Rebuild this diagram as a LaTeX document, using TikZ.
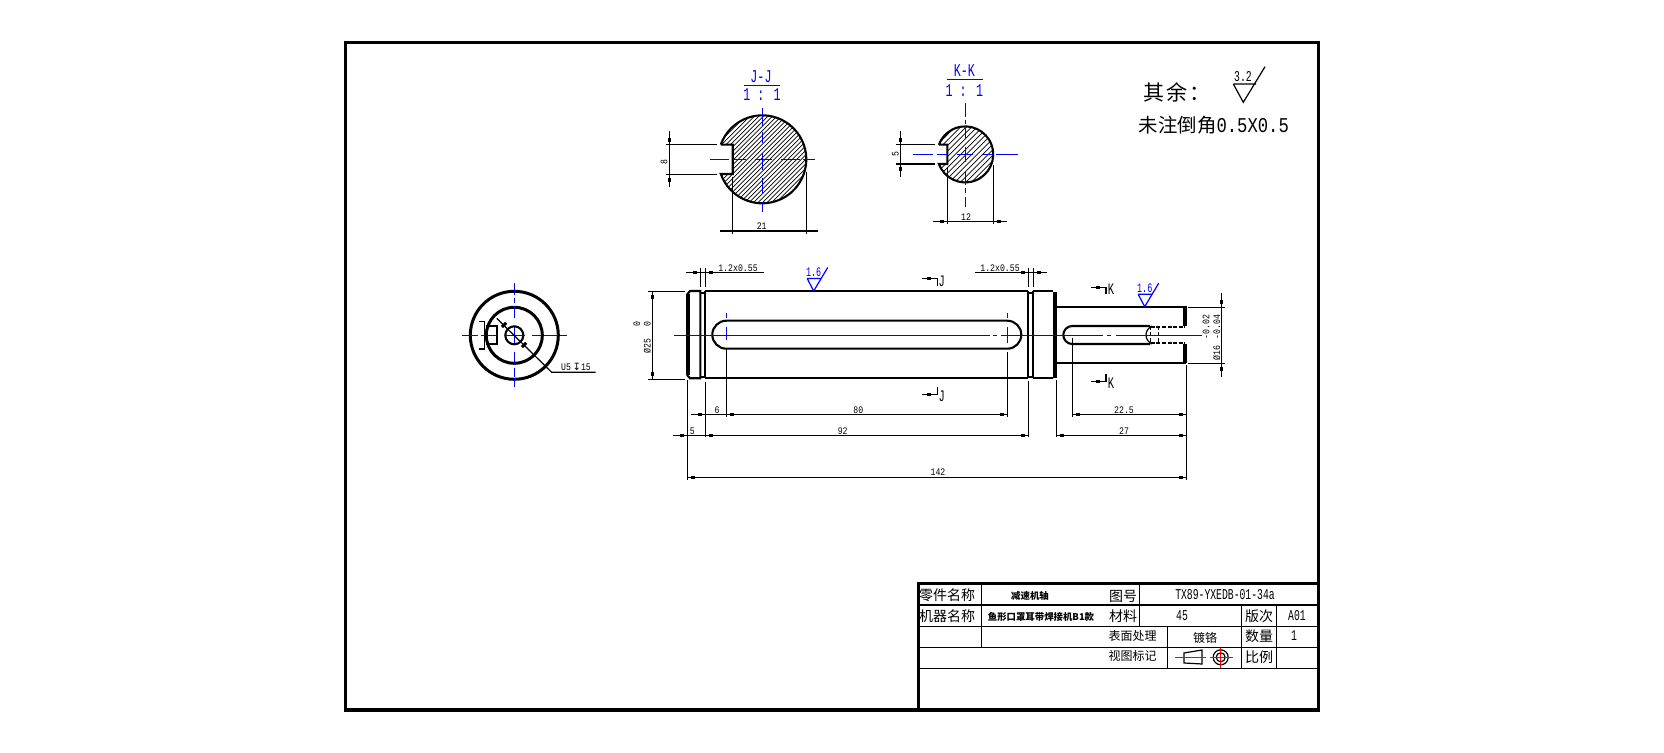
\documentclass[tikz,border=0pt]{standalone}
\usepackage{fontspec}
\newfontfamily\cjkfont{Noto Sans CJK SC}
\newfontfamily\cadnar[FakeStretch=0.65]{Liberation Mono}
\newfontfamily\caddim[FakeStretch=0.82]{Liberation Mono}
\newfontfamily\symfont{DejaVu Sans}
\definecolor{cadblue}{RGB}{0,0,255}
\definecolor{cadred}{RGB}{255,0,0}
\tikzset{
	cjkt/.style={font=\cjkfont\fontsize{#1}{#1}\selectfont,inner sep=0pt},
	nart/.style={font=\cadnar\fontsize{#1}{#1}\selectfont,inner sep=0pt},
	dimt/.style={font=\caddim\fontsize{#1}{#1}\selectfont,inner sep=0pt},
	outl/.style={line width=1.05pt},
	bar/.style={line width=1.9pt},
	fine/.style={line width=0.6pt},
	hatchl/.style={line width=0.35pt},
	cen/.style={line width=0.7pt,draw=cadblue},
	framel/.style={line width=1.6pt}
}
\newcommand{\roughsym}[4]{%
	\draw[#1,fine] (#2-6.5,#3-12.5)--(#2+7.5,#3-12.5) (#2-6.5,#3-12.5)--(#2,#3)--(#2+14,#3-23.5);
	\node[nart=#4,text=#1,anchor=south] (rough#2) at (#2,#3-13.5) {1.6};
}
\begin{document}
\begin{tikzpicture}[x=0.5pt,y=-0.5pt]
	\useasboundingbox (0,0) rectangle (1664,753);
	\draw[framel] (345.3,42.3) rectangle (1318.7,710);
	\draw[framel] (918.3,710)--(918.3,583.3)--(1318.7,583.3);
	\draw[fine] (918.3,605)--(1318.7,605) (918.3,626.3)--(1318.7,626.3) (918.3,647.3)--(1318.7,647.3) (918.3,668.3)--(1318.7,668.3);
	\draw[fine] (981.3,583.3)--(981.3,647.3) (1139.3,583.3)--(1139.3,626.3) (1167.3,626.3)--(1167.3,668.3);
	\draw[fine] (1241.3,605)--(1241.3,668.3) (1276.3,605)--(1276.3,668.3);
	\begin{scope}[every node/.style={cjkt=7}]
	\node (partname) at (947,595.7) {零件名称};
	\node (machname) at (947,616) {机器名称};
	\node (drawno) at (1123,596) {图号};
	\node (material) at (1123,616) {材料};
	\node (version) at (1259,616) {版次};
	\node (amount) at (1259,636) {数量};
	\node (ratio) at (1259,657) {比例};
	\end{scope}
	\begin{scope}[every node/.style={cjkt=6}]
	\node (surface) at (1132.7,636) {表面处理};
	\node (viewmark) at (1132.7,655.7) {视图标记};
	\node (plating) at (1205,638) {镀铬};
	\end{scope}
	\begin{scope}[every node/.style={nart=7.5}]
	\node (drawnoval) at (1225,595) {TX89-YXEDB-01-34a};
	\node (materialval) at (1182,616) {45};
	\node (versionval) at (1297,616) {A01};
	\node (amountval) at (1294,636) {1};
	\end{scope}
	\node[cjkt=4.7,font=\cjkfont\bfseries\fontsize{4.7}{4.7}\selectfont] (partval) at (1030,596) {减速机轴};
	\node[cjkt=4.7,font=\cjkfont\bfseries\fontsize{4.7}{4.7}\selectfont] (machval) at (1041,617.3) {鱼形口罩耳带焊接机B1款};
	\draw[fine] (1184,653)--(1202,650)--(1202,664)--(1184,663)--cycle;
	\draw[fine] (1220.7,657.3) circle (7.5);
	\draw[fine] (1220.7,657.3) circle (4.5);
	\draw[fine,draw=cadred] (1175,657.3)--(1206,657.3) (1210,657.3)--(1233,657.3) (1220.7,648)--(1220.7,668);

	\node[cjkt=10.5] (rest) at (1177,92.7) {其\hspace{1pt}余\hspace{1pt}：};
	\draw[fine] (1233.3,84)--(1256,84) (1233.3,84)--(1243.3,102.3)--(1265,66.7);
	\node[nart=7.5] (restval) at (1243,77) {3.2};
	\node[cjkt=9.7,anchor=west] (chamfer) at (1138.5,125) {未注倒角{\caddim\fontsize{10.5}{10.5}\selectfont 0.5X0.5}};

	\begin{scope}
	\clip (720.8,144.7)--(732.7,144.7)--(732.7,174)--(720.8,174) arc[start angle=160.5,end angle=-160.5,radius=44];
	\foreach \c in {830,834.5,...,1012}
		\draw[hatchl] (\c-250,250)--(\c-90,90);
	\end{scope}
	\draw[outl] (720.8,144.7)--(732.7,144.7)--(732.7,174)--(720.8,174) arc[start angle=160.5,end angle=-160.5,radius=44];
	\draw[cen] (710,159.3)--(729,159.3) (733,159.3)--(746,159.3) (755,159.3)--(772,159.3) (781,159.3)--(800,159.3) (803,159.3)--(815,159.3);
	\draw[cen] (762.3,108)--(762.3,126) (762.3,132)--(762.3,143) (762.3,153)--(762.3,170) (762.3,178)--(762.3,193) (762.3,202)--(762.3,212);
	\begin{scope}[every node/.style={nart=9,text=cadblue}]
	\node (jjname) at (761,77) {J-J};
	\node (jjscale) at (762,95) {1 : 1};
	\node (kkname) at (964.3,70.7) {K-K};
	\node (kkscale) at (964.3,90.7) {1 : 1};
	\end{scope}
	\draw[fine,draw=cadblue] (744,85.3)--(780,85.3) (946.7,79.3)--(982.7,79.3);
	\draw[fine] (666,144.7)--(716.7,144.7) (666,174.3)--(716.7,174.3) (669.3,131)--(669.3,187.3);
	\draw[fine] (732.7,176.7)--(732.7,234) (806.3,171.7)--(806.3,234) (720,231)--(818,231);

	\begin{scope}
	\clip (938.9,144.7)--(947.3,144.7)--(947.3,164)--(938.9,164) arc[start angle=160,end angle=-160,radius=28];
	\foreach \c in {1060,1065.5,...,1180}
		\draw[hatchl] (\c-200,200)--(\c-100,100);
	\end{scope}
	\draw[outl] (938.9,144.7)--(947.3,144.7)--(947.3,164)--(938.9,164) arc[start angle=160,end angle=-160,radius=28];
	\draw[cen] (913,154.3)--(933,154.3) (937,154.3)--(948,154.3) (957,154.3)--(973,154.3) (983,154.3)--(993,154.3) (996,154.3)--(1018,154.3);
	\draw[cen] (965.3,103)--(965.3,117) (965.3,120)--(965.3,124) (965.3,126)--(965.3,138) (965.3,147)--(965.3,162) (965.3,172)--(965.3,185) (965.3,188)--(965.3,193) (965.3,197)--(965.3,206.7);
	\draw[fine] (896,144.7)--(935,144.7) (896,164)--(935,164) (900.3,131)--(900.3,176.7);
	\draw[fine] (947.3,167.3)--(947.3,224) (993.7,165)--(993.7,224) (933.3,221.3)--(1006.7,221.3);

	\draw[line width=1.5pt] (514.3,335.3) circle (44) (514.3,335.3) circle (28);
	\draw[outl] (514.3,335.3) circle (9);
	\draw[outl] (486,326)--(496.7,326)--(496.7,344)--(486,344);
	\draw[fine] (479.3,321.7)--(484.7,321.7)--(484.7,349)--(479.3,349);
	\draw[cen] (462,335.3)--(478,335.3) (481,335.3)--(485,335.3) (487,335.3)--(497,335.3) (505,335.3)--(525,335.3) (532,335.3)--(542,335.3) (544,335.3)--(558,335.3) (560,335.3)--(566.7,335.3);
	\draw[cen] (514.3,283)--(514.3,295) (514.3,298)--(514.3,303) (514.3,306)--(514.3,318) (514.3,327)--(514.3,343) (514.3,352)--(514.3,365) (514.3,368)--(514.3,377) (514.3,378)--(514.3,386.7);
	\draw[fine] (496.7,318.3)--(551.7,372.3)--(595.7,372.3);
	\foreach \x/\y in {504/325,524/345}
		\fill[rotate around={45:(\x,\y)}] (\x-3,\y-1.5) rectangle (\x+3,\y+1.5);
	\node[dimt=5,anchor=south] (depth) at (576,370.5) {U5\,{\symfont\fontsize{5}{5}\selectfont ↧}15};

	\draw[outl] (700.3,291)--(690,291)--(687.5,294)--(687.5,375.5)--(690,378.3)--(700.3,378.3)--cycle;
	\draw[bar] (688,294)--(688,375.5);
	\draw[outl] (700.3,293)--(705.3,293) (700.3,377)--(705.3,377);
	\draw[outl] (705.3,291)--(1028.3,291) (705.3,378.3)--(1028.3,378.3);
	\draw[outl] (705.3,291)--(705.3,378.3) (1028.3,291)--(1028.3,378.3) (1033.3,291)--(1033.3,378.3);
	\draw[outl] (1028.3,293)--(1033.3,293) (1028.3,377)--(1033.3,377);
	\draw[outl] (1033.3,291)--(1053,291) (1033.3,378.3)--(1053,378.3);
	\draw[bar] (1055,292)--(1055,378.3);
	\draw[outl] (1056,306.7)--(1185.7,306.7) (1056,362.7)--(1185.7,362.7);
	\draw[bar] (1185.3,306)--(1185.3,326) (1185.3,344)--(1185.3,363.5);
	\draw[outl] (726.3,320.7)--(1007.3,320.7) arc[start angle=-90,end angle=90,radius=14]--(726.3,348.7) arc[start angle=90,end angle=270,radius=14]--cycle;
	\draw[outl] (1150,326)--(1072.3,326) arc[start angle=-90,end angle=-270,radius=9]--(1150,344);
	\draw[outl,dash pattern=on 2pt off 0.8pt] (1150.7,326.8)--(1185,326.8) (1150.7,343.2)--(1185,343.2);
	\draw[fine,dash pattern=on 2pt off 1pt] (1150.7,326)--(1150.7,344) (1158.7,326)--(1158.7,344);
	\draw[fine] (1152,326) .. controls (1144,330) and (1144,340) .. (1152,344);
	\draw[cen] (674,335.3)--(990,335.3) (993,335.3)--(997,335.3) (1001,335.3)--(1103,335.3) (1107,335.3)--(1111,335.3) (1116,335.3)--(1201.7,335.3);
	\draw[cen] (726.3,312.7)--(726.3,317.7) (726.3,327)--(726.3,340) (1007.3,312.7)--(1007.3,317.7) (1007.3,327)--(1007.3,343);
	\roughsym{cadblue}{813.7}{291}{6.5}
	\roughsym{cadblue}{1144.7}{306.7}{6.5}

	\draw[fine] (687.3,380)--(687.3,480) (1186.7,365)--(1186.7,480) (705.3,382.3)--(705.3,437.3);
	\draw[fine] (1028.3,380.7)--(1028.3,437.3) (1056.3,380)--(1056.3,437.3);
	\draw[fine] (726.3,348.7)--(726.3,416.7) (1007.3,351.7)--(1007.3,416.7) (1072.3,338)--(1072.3,416.7);
	\draw[fine] (691,414.3)--(1007.3,414.3) (1072.3,414.3)--(1186.7,414.3);
	\draw[fine] (673.3,435.3)--(1028.3,435.3) (1056.3,435.3)--(1186.7,435.3) (687.3,477.7)--(1186.7,477.7);
	\draw[fine] (686,272.3)--(764,272.3) (700.3,268.3)--(700.3,286.7) (705.3,268.3)--(705.3,286.7);
	\draw[fine] (975,272.3)--(1046.7,272.3) (1028.3,268.3)--(1028.3,286.7) (1033.3,268.3)--(1033.3,286.7);
	\draw[fine] (648.3,291.3)--(685,291.3) (648.3,379.3)--(685,379.3) (652.7,291.3)--(652.7,379.3);
	\draw[fine] (1188.3,307.3)--(1225,307.3) (1188.3,363.3)--(1225,363.3) (1221.7,293.3)--(1221.7,376.7);
	\draw[fine] (922.3,278.3)--(937.3,278.3)--(937.3,286) (922.3,394.3)--(937.3,394.3)--(937.3,386.7);
	\draw[fine] (1091,287.3)--(1106,287.3)--(1106,294) (1091,381.3)--(1106,381.3)--(1106,374);
	\foreach \x/\y in {738/231,801.3/231,942/221.3,999/221.3,700/414.3,732/414.3,1002/414.3,1077.7/414.3,1180.7/414.3,682/435.3,710.7/435.3,1023/435.3,1062/435.3,1180.7/435.3,693/477.7,1180.7/477.7,695/272.3,711/272.3,1023/272.3,1039/272.3,929.3/278.3,929.3/394.3,1098.3/287.3,1098.3/381.3}
		\fill (\x-2,\y-1.3) rectangle (\x+2,\y+1.3);
	\foreach \x/\y in {669.3/140,669.3/180,900.3/140,900.3/168.7,652.7/296.7,652.7/374,1221.7/301.7,1221.7/368.7}
		\fill (\x-1.3,\y-2) rectangle (\x+1.3,\y+2);

	\begin{scope}[every node/.style={dimt=5}]
	\node (dimwidth) at (761.7,225.7) {21};
	\node (dimkwidth) at (966,216.7) {12};
	\node (dimcha) at (738,268.3) {1.2x0.55};
	\node (dimchb) at (1000,268.3) {1.2x0.55};
	\node (dimsix) at (717,410) {6};
	\node (dimeighty) at (858.3,410) {80};
	\node (dimslot) at (1124,410) {22.5};
	\node (dimfive) at (692.3,431) {5};
	\node (dimbody) at (842.7,431) {92};
	\node (dimend) at (1124,431) {27};
	\node (dimall) at (938,472) {142};
	\end{scope}
	\begin{scope}[every node/.style={dimt=5,rotate=90}]
	\node (dimkey) at (664,161.7) {8};
	\node (dimkkey) at (895.3,154.3) {5};
	\node (dimdia) at (647.3,346) {Ø25};
	\node (dimdialo) at (647.3,324) {0};
	\node (dimdiaup) at (636.7,324) {0};
	\node (dimsm) at (1216.7,353) {Ø16};
	\node (dimsmlo) at (1216.7,327) {-0.04};
	\node (dimsmup) at (1206,327) {-0.02};
	\end{scope}
	\begin{scope}[every node/.style={nart=8}]
	\node (cutja) at (941.7,281) {J};
	\node (cutjb) at (941.7,396.7) {J};
	\node (cutka) at (1111,289.3) {K};
	\node (cutkb) at (1111,383.3) {K};
	\end{scope}
\end{tikzpicture}
\end{document}
